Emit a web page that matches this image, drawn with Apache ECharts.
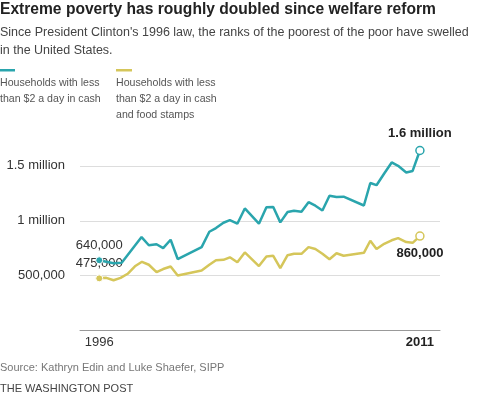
<!DOCTYPE html>
<html>
<head>
<meta charset="utf-8">
<script src="https://cdn.jsdelivr.net/npm/echarts@6/dist/echarts.min.js"></script>
<style>
  html, body { margin: 0; padding: 0; background: #fff; }
  #chart { width: 480px; height: 397px; }
</style>
</head>
<body>
<div id="chart"></div>
<script>
  // households living on < $2 a day
  var cashYears = [1996.00, 1996.33, 1996.67, 1997.05, 1997.98, 1998.32, 1998.68, 1998.99, 1999.34, 1999.67,
    2000.79, 2001.15, 2001.46, 2001.81, 2002.11, 2002.46, 2002.81, 2003.47, 2003.82, 2004.14,
    2004.47, 2004.81, 2005.11, 2005.46, 2005.79, 2006.11, 2006.44, 2006.77, 2007.10, 2007.43,
    2008.38, 2008.68, 2008.97, 2009.33, 2009.68, 2009.98, 2010.36, 2010.66, 2011.00];
  var cashValues = [640000, 626000, 613000, 617000, 851000, 777000, 786000, 751000, 827000, 651000,
    760000, 900000, 933000, 982000, 1005000, 973000, 1112000, 973000, 1123000, 1125000,
    985000, 1079000, 1091000, 1082000, 1169000, 1137000, 1094000, 1228000, 1216000, 1219000,
    1139000, 1344000, 1324000, 1431000, 1531000, 1501000, 1440000, 1454000, 1640000];

  var stampYears = [1996.00, 1996.33, 1996.67, 1997.00, 1997.33, 1997.67, 1998.00, 1998.32, 1998.68, 1998.99,
    1999.34, 1999.67, 2000.79, 2001.15, 2001.46, 2001.81, 2002.11, 2002.46, 2002.81, 2003.47,
    2003.82, 2004.14, 2004.47, 2004.81, 2005.11, 2005.46, 2005.79, 2006.11, 2006.44, 2006.77,
    2007.10, 2007.43, 2008.38, 2008.68, 2008.97, 2009.33, 2009.68, 2009.98, 2010.36, 2010.66, 2011.00];
  var stampValues = [475000, 480000, 458000, 480000, 517000, 585000, 626000, 599000, 531000, 560000,
    583000, 501000, 547000, 599000, 640000, 644000, 667000, 622000, 711000, 587000,
    675000, 681000, 569000, 686000, 699000, 699000, 760000, 742000, 699000, 649000,
    704000, 681000, 708000, 818000, 742000, 790000, 822000, 842000, 806000, 799000, 860000];

  var yTickValues = [500000, 1000000, 1500000];
  var yTickLabels = ['500,000', '1 million', '1.5 million'];
  var xTickValues = [1996, 2011];
  var endLabels = { cash: ['640,000', '1.6 million'], stamps: ['475,000', '860,000'] };

  var teal = '#2aa5ad';
  var gold = '#d5c65a';
  var font = 'Liberation Sans';

  function buildData(years, values, color, labels, endPos) {
    var last = years.length - 1;
    return years.map(function (y, i) {
      var item = { value: [y, values[i]] };
      if (i === 0) {
        item.symbol = 'circle';
        item.symbolSize = 7;
        item.itemStyle = { color: color, borderColor: '#fff', borderWidth: 1 };
        item.label = {
          show: true, position: 'top', distance: 4, formatter: labels[0],
          color: '#333', fontSize: 13, fontFamily: font,
          textBorderColor: '#fff', textBorderWidth: 2
        };
      } else if (i === last) {
        item.symbol = 'circle';
        item.symbolSize = 8;
        item.itemStyle = { color: '#fff', borderColor: color, borderWidth: 1.5 };
        item.label = {
          show: true, position: endPos, distance: 6, formatter: labels[1],
          color: '#222', fontSize: 13, fontWeight: 'bold', fontFamily: font
        };
      }
      return item;
    });
  }

  function textBlock(text, left, top, size, color, lineHeight, weight) {
    return {
      text: text, left: left, top: top, padding: 0,
      textStyle: { fontFamily: font, fontSize: size, fontWeight: weight || 'normal', color: color, lineHeight: lineHeight }
    };
  }

  var chart = echarts.init(document.getElementById('chart'));
  chart.setOption({
    animation: false,
    title: [
      textBlock('Extreme poverty has roughly doubled since welfare reform', 0, 1, 15.6, '#222', 18, 'bold'),
      textBlock("Since President Clinton's 1996 law, the ranks of the poorest of the poor have swelled\nin the United States.",
        0, 23, 12.5, '#444', 18.5),
      textBlock('Households with less\nthan $2 a day in cash', 0, 75, 10.6, '#555', 16),
      textBlock('Households with less\nthan $2 a day in cash\nand food stamps', 116, 75, 10.6, '#555', 16),
      textBlock('Source: Kathryn Edin and Luke Shaefer, SIPP', 0, 361, 11, '#777', 14),
      textBlock('THE WASHINGTON POST', 0, 382, 11, '#444', 14)
    ],
    graphic: [
      { type: 'rect', left: 0, top: 69, shape: { width: 15, height: 2.5 }, style: { fill: teal } },
      { type: 'rect', left: 116, top: 69, shape: { width: 16, height: 2.5 }, style: { fill: gold } }
    ],
    grid: { left: 80, right: 40, top: 111, bottom: 66.5 },
    xAxis: {
      type: 'value',
      min: 1995.1,
      max: 2011.94,
      axisLine: { show: true, lineStyle: { color: '#999', width: 1 } },
      axisTick: { show: false },
      splitLine: { show: false },
      axisLabel: {
        customValues: xTickValues,
        margin: 5,
        fontFamily: font,
        fontSize: 13,
        color: '#333',
        formatter: function (v) {
          return v === xTickValues[1] ? '{b|' + v + '}' : String(v);
        },
        rich: { b: { fontWeight: 'bold', fontSize: 13, fontFamily: font, color: '#222' } }
      }
    },
    yAxis: {
      type: 'value',
      min: 0,
      max: 2000000,
      interval: 500000,
      axisLine: { show: false },
      axisTick: { show: false },
      splitLine: { show: true, showMinLine: false, showMaxLine: false, lineStyle: { color: '#ddd', width: 1 } },
      axisLabel: {
        margin: 15,
        fontFamily: font,
        fontSize: 13,
        color: '#333',
        formatter: function (v) {
          var i = yTickValues.indexOf(v);
          return i >= 0 ? yTickLabels[i] : '';
        }
      }
    },
    series: [
      {
        name: 'Households with less than $2 a day in cash and food stamps',
        type: 'line',
        symbol: 'none',
        lineStyle: { color: gold, width: 2.5 },
        itemStyle: { color: gold },
        data: buildData(stampYears, stampValues, gold, endLabels.stamps, 'bottom'),
        z: 2
      },
      {
        name: 'Households with less than $2 a day in cash',
        type: 'line',
        symbol: 'none',
        lineStyle: { color: teal, width: 2.5 },
        itemStyle: { color: teal },
        data: buildData(cashYears, cashValues, teal, endLabels.cash, 'top'),
        z: 3
      }
    ]
  });
</script>
</body>
</html>
